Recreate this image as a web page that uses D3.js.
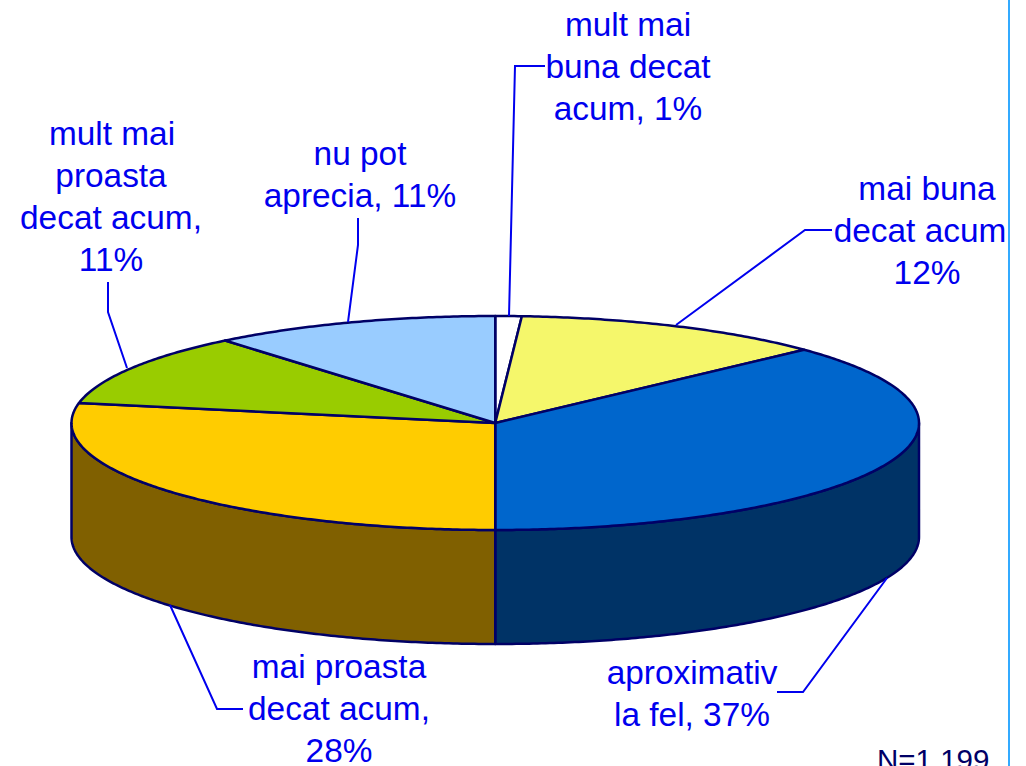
<!DOCTYPE html>
<html>
<head>
<meta charset="utf-8">
<script src="https://cdn.jsdelivr.net/npm/d3@7"></script>
<style>html,body{margin:0;padding:0;background:#fff;overflow:hidden}svg{display:block}</style>
</head>
<body>
<svg id="c" width="1026" height="766"></svg>
<script>
const categories = ["mult mai buna decat acum","mai buna decat acum","aproximativ la fel","mai proasta decat acum","mult mai proasta decat acum","nu pot aprecia"];
const values = [1,12,37,28,11,11];
const topColors = ["#FFFFFF","#F5F76B","#0066CC","#FFCC00","#99CC00","#99CCFF"];
const sideColors = ["#808080","#7B7B35","#003366","#806000","#4D6600","#4D6680"];
const labelLines = [
  ["mult mai","buna decat","acum, 1%"],
  ["mai buna","decat acum","12%"],
  ["aproximativ","la fel, 37%"],
  ["mai proasta","decat acum,","28%"],
  ["mult mai","proasta","decat acum,","11%"],
  ["nu pot","aprecia, 11%"]
];
const labelX = [
  [628,628,628],
  [927,920,927],
  [692,692],
  [339,339,339],
  [112,111,111,111],
  [360,360]
];
const labelY = [36,200,684,678,145,165];
const leaders = [
  [[509,316],[515,66],[545,66]],
  [[676,325],[805,230],[832,230]],
  [[887,578],[803,692],[777,692]],
  [[170,605],[217,709],[243,709]],
  [[127,368],[108,312],[108,282]],
  [[348,322],[358,245],[358,218]]
];
const note = "N=1 199";
const navy = "#000066", blue = "#0000EE";

const svg = d3.select("#c");
const x = d3.scaleLinear().domain([-1,1]).range([71.5,919]);
const y = d3.scaleLinear().domain([-1,1]).range([316,530]);
const depth = 114;
const px = a => x(Math.sin(a));
const py = a => y(-Math.cos(a));
const arcs = d3.pie().sort(null).value(d => d)(values);

function arcPts(a0,a1,dy){
  const n = Math.max(2,Math.ceil((a1-a0)/0.01));
  return d3.range(n+1).map(i => { const a = a0+(a1-a0)*i/n; return [px(a),py(a)+dy]; });
}
const line = d3.line();

// walls: only the front half (PI/2 to 3PI/2) is visible
const g = svg.append("g").attr("stroke",navy).attr("stroke-width",2.5).attr("stroke-linejoin","round");
arcs.forEach((d,i) => {
  const a0 = Math.max(d.startAngle,Math.PI/2), a1 = Math.min(d.endAngle,3*Math.PI/2);
  if (a1 <= a0) return;
  const pts = arcPts(a0,a1,0).concat(arcPts(a0,a1,depth).reverse());
  g.append("path").attr("d",line(pts)+"Z").attr("fill",sideColors[i]);
});
// top slices
arcs.forEach((d,i) => {
  const pts = [[x(0),y(0)]].concat(arcPts(d.startAngle,d.endAngle,0));
  g.append("path").attr("d",line(pts)+"Z").attr("fill",topColors[i]);
});
// leaders
svg.append("g").selectAll("path").data(leaders).join("path")
  .attr("d",d => line(d)).attr("fill","none").attr("stroke",blue).attr("stroke-width",2);
// labels
const t = svg.append("g").attr("font-family","'Liberation Sans',Arial,sans-serif").attr("font-size",33.4).attr("fill",blue).attr("text-anchor","middle");
labelLines.forEach((ls,i) => {
  ls.forEach((s,j) => t.append("text").attr("x",labelX[i][j]).attr("y",labelY[i]+j*42).text(s));
});
svg.append("text").attr("x",877).attr("y",770).attr("font-family","'Liberation Sans',Arial,sans-serif").attr("font-size",29.5).attr("fill",navy).text(note);
// frame line
svg.append("line").attr("x1",1009).attr("x2",1009).attr("y1",0).attr("y2",766).attr("stroke","#33AAFF").attr("stroke-width",2);
</script>
</body>
</html>
